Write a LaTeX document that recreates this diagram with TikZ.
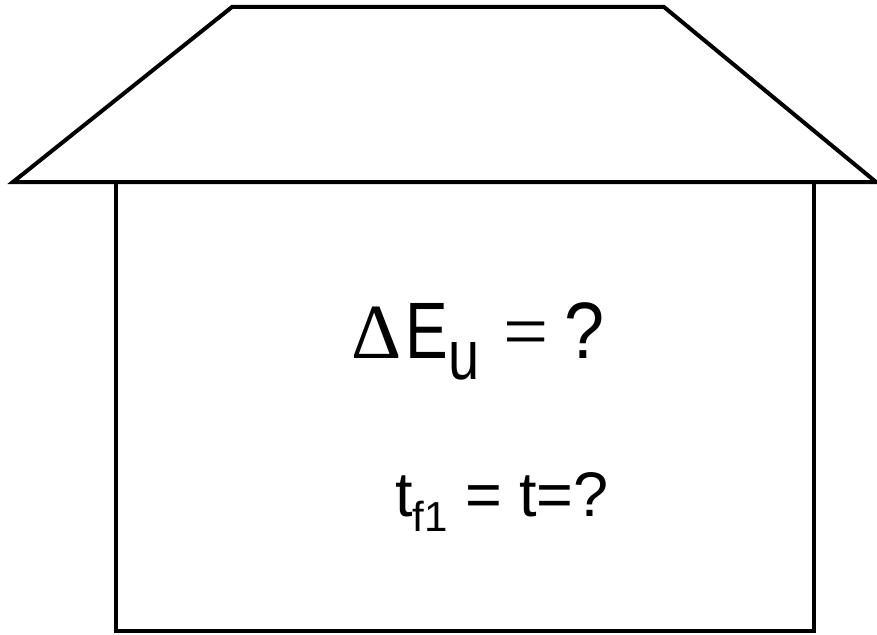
\documentclass[tikz,border=0pt]{standalone}
\usepackage{fontspec}
\setmainfont{Liberation Sans}
\newfontfamily\symfont{Liberation Serif}
\tikzset{
  outline/.style={draw=black, line width=4pt, line join=miter},
  label/.style={anchor=base west, inner sep=0pt, outer sep=0pt}
}
\begin{document}
\begin{tikzpicture}[x=1pt,y=-1pt]
\useasboundingbox (0,0) rectangle (877,634);
% roof
\draw[outline] (13,182) -- (232,7) -- (664,7) -- (876,182) -- cycle;
% walls
\draw[outline] (116,182) -- (116,631) -- (814,631) -- (814,182);
% texts
\node[label] (eq1) at (351,358) {%
  {\symfont\fontsize{78}{78}\selectfont Δ}\hspace{4pt}%
  \scalebox{0.8}[1]{\fontsize{80}{80}\selectfont E}\hspace{1pt}%
  \raisebox{-21pt}{\scalebox{0.8}[1]{\fontsize{70}{70}\selectfont u}}\hspace{24pt}%
  {\symfont\fontsize{80}{80}\selectfont =}\hspace{15pt}%
  \scalebox{0.9}[1]{\fontsize{80}{80}\selectfont ?}};
\node[label] (eq2) at (395,516) {%
  \fontsize{63}{63}\selectfont t\raisebox{-15pt}{\fontsize{42}{42}\selectfont f1} = t=?};
\end{tikzpicture}
\end{document}
